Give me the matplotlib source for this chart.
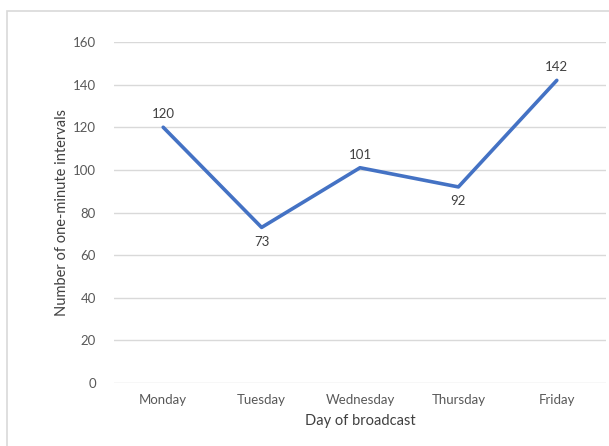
import matplotlib.pyplot as plt
from matplotlib.patches import Rectangle

days = ["Monday", "Tuesday", "Wednesday", "Thursday", "Friday"]
intervals = [120, 73, 101, 92, 142]
label_pos = ["above", "below", "above", "below", "above"]

plt.rcParams["font.family"] = ["Lato", "DejaVu Sans"]

W, H = 609, 446
fig = plt.figure(figsize=(W / 100, H / 100), dpi=100)

# chart border like the spreadsheet export
fig.patches.append(Rectangle((6.5 / W, -0.05), 1.0, 1 - 10.5 / H + 0.05,
                             transform=fig.transFigure, fill=False,
                             edgecolor="#d9d9d9", linewidth=1.2))

ax = fig.add_axes([114 / W, 1 - 383 / H, (606 - 114) / W, (383 - 42) / H])

x = range(len(days))
ax.plot(x, intervals, color="#4472C4", linewidth=2.6, solid_capstyle="round")

for i, v in enumerate(intervals):
    if label_pos[i] == "above":
        ax.annotate(str(v), (i, v), xytext=(0, 5), textcoords="offset points",
                    ha="center", va="bottom", fontsize=9.5, color="#404040")
    else:
        ax.annotate(str(v), (i, v), xytext=(0, -6), textcoords="offset points",
                    ha="center", va="top", fontsize=9.5, color="#404040")

ax.set_xlim(-0.5, len(days) - 0.5)
ax.set_ylim(0, 160)
ax.set_yticks(range(0, 161, 20))
ax.set_xticks(list(x))
ax.set_xticklabels(days)
ax.grid(axis="y", color="#d9d9d9", linewidth=1)
ax.set_axisbelow(True)
for s in ax.spines.values():
    s.set_visible(False)
ax.tick_params(length=0, labelsize=9.5, labelcolor="#595959")
ax.tick_params(axis="y", pad=13)
ax.tick_params(axis="x", pad=8)

ax.set_xlabel("Day of broadcast", fontsize=10.5, color="#404040", labelpad=6)
ax.set_ylabel("Number of one-minute intervals", fontsize=10.5, color="#404040", labelpad=3)

fig.savefig("out.png", dpi=100)
